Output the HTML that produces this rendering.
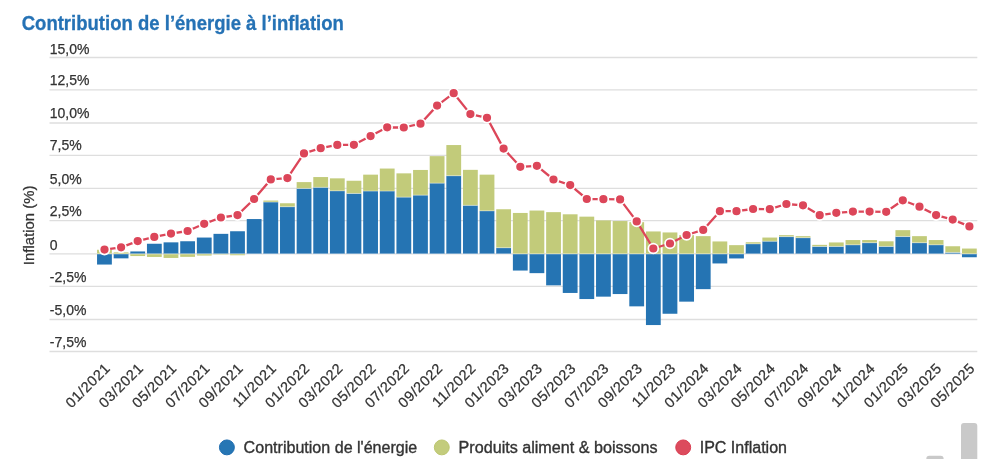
<!DOCTYPE html>
<html lang="fr"><head><meta charset="utf-8"><title>Contribution de l’énergie à l’inflation</title>
<style>
html,body{margin:0;padding:0;background:#fff;}
body{width:981px;height:459px;overflow:hidden;font-family:"Liberation Sans",sans-serif;}
svg{display:block;}
text{font-family:"Liberation Sans",sans-serif;}
.yl{font-size:14px;fill:#333333;stroke:#333;stroke-width:0.25px;}
.xl{font-size:14.5px;fill:#333333;letter-spacing:0.5px;stroke:#333;stroke-width:0.25px;}
.lg{font-size:16px;fill:#333333;stroke:#333333;stroke-width:0.35px;}
</style></head><body>
<svg width="981" height="459" viewBox="0 0 981 459">
<rect width="981" height="459" fill="#fff"/>

<rect x="961" y="423" width="16.3" height="50" rx="3" fill="#c9c9c9"/>
<rect x="926.3" y="455.7" width="17.3" height="20" rx="3" fill="#c9c9c9"/>
<text x="21.7" y="30.3" font-size="20.3" font-weight="bold" fill="#2572b5" stroke="#2572b5" stroke-width="0.3" textLength="322.2" lengthAdjust="spacingAndGlyphs">Contribution de l’énergie à l’inflation</text>
<line x1="49.5" x2="977.3" y1="57.5" y2="57.5" stroke="#dedede" stroke-width="1.3"/>
<line x1="49.5" x2="977.3" y1="89.8" y2="89.8" stroke="#dedede" stroke-width="1.3"/>
<line x1="49.5" x2="977.3" y1="123.0" y2="123.0" stroke="#dedede" stroke-width="1.3"/>
<line x1="49.5" x2="977.3" y1="155.3" y2="155.3" stroke="#dedede" stroke-width="1.3"/>
<line x1="49.5" x2="977.3" y1="188.3" y2="188.3" stroke="#dedede" stroke-width="1.3"/>
<line x1="49.5" x2="977.3" y1="220.7" y2="220.7" stroke="#dedede" stroke-width="1.3"/>
<line x1="49.5" x2="977.3" y1="253.8" y2="253.8" stroke="#dedede" stroke-width="1.3"/>
<line x1="49.5" x2="977.3" y1="286.3" y2="286.3" stroke="#dedede" stroke-width="1.3"/>
<line x1="49.5" x2="977.3" y1="319.5" y2="319.5" stroke="#dedede" stroke-width="1.3"/>
<line x1="49.5" x2="977.3" y1="351.5" y2="351.5" stroke="#dedede" stroke-width="1.3"/>
<rect x="97.05" y="253.90" width="14.80" height="10.65" fill="#2574b3"/>
<rect x="97.05" y="249.75" width="14.80" height="4.15" fill="#c2cb7a"/>
<rect x="97.05" y="253.40" width="14.80" height="1" fill="#fff" opacity="0.5"/>
<rect x="113.68" y="253.90" width="14.80" height="4.45" fill="#2574b3"/>
<rect x="113.68" y="252.35" width="14.80" height="1.55" fill="#c2cb7a"/>
<rect x="113.68" y="253.40" width="14.80" height="1" fill="#fff" opacity="0.5"/>
<rect x="130.32" y="251.45" width="14.80" height="2.45" fill="#2574b3"/>
<rect x="130.32" y="253.90" width="14.80" height="2.15" fill="#c2cb7a"/>
<rect x="130.32" y="253.40" width="14.80" height="1" fill="#fff" opacity="0.5"/>
<rect x="146.95" y="243.75" width="14.80" height="10.15" fill="#2574b3"/>
<rect x="146.95" y="253.90" width="14.80" height="3.05" fill="#c2cb7a"/>
<rect x="146.95" y="253.40" width="14.80" height="1" fill="#fff" opacity="0.5"/>
<rect x="163.58" y="242.35" width="14.80" height="11.55" fill="#2574b3"/>
<rect x="163.58" y="253.90" width="14.80" height="4.05" fill="#c2cb7a"/>
<rect x="163.58" y="253.40" width="14.80" height="1" fill="#fff" opacity="0.5"/>
<rect x="180.22" y="241.25" width="14.80" height="12.65" fill="#2574b3"/>
<rect x="180.22" y="253.90" width="14.80" height="2.95" fill="#c2cb7a"/>
<rect x="180.22" y="253.40" width="14.80" height="1" fill="#fff" opacity="0.5"/>
<rect x="196.85" y="237.55" width="14.80" height="16.35" fill="#2574b3"/>
<rect x="196.85" y="253.90" width="14.80" height="1.65" fill="#c2cb7a"/>
<rect x="196.85" y="253.40" width="14.80" height="1" fill="#fff" opacity="0.5"/>
<rect x="213.48" y="233.85" width="14.80" height="20.05" fill="#2574b3"/>
<rect x="213.48" y="253.90" width="14.80" height="0.55" fill="#c2cb7a"/>
<rect x="213.48" y="253.40" width="14.80" height="1" fill="#fff" opacity="0.5"/>
<rect x="230.11" y="231.25" width="14.80" height="22.65" fill="#2574b3"/>
<rect x="230.11" y="253.90" width="14.80" height="1.35" fill="#c2cb7a"/>
<rect x="230.11" y="253.40" width="14.80" height="1" fill="#fff" opacity="0.5"/>
<rect x="246.75" y="219.05" width="14.80" height="34.85" fill="#2574b3"/>
<rect x="246.75" y="253.40" width="14.80" height="1" fill="#fff" opacity="0.5"/>
<rect x="263.38" y="202.05" width="14.80" height="51.85" fill="#2574b3"/>
<rect x="263.38" y="200.55" width="14.80" height="1.50" fill="#c2cb7a"/>
<rect x="263.38" y="201.55" width="14.80" height="1" fill="#fff" opacity="0.4"/>
<rect x="263.38" y="253.40" width="14.80" height="1" fill="#fff" opacity="0.5"/>
<rect x="280.01" y="206.75" width="14.80" height="47.15" fill="#2574b3"/>
<rect x="280.01" y="203.25" width="14.80" height="3.50" fill="#c2cb7a"/>
<rect x="280.01" y="206.25" width="14.80" height="1" fill="#fff" opacity="0.4"/>
<rect x="280.01" y="253.40" width="14.80" height="1" fill="#fff" opacity="0.5"/>
<rect x="296.65" y="188.45" width="14.80" height="65.45" fill="#2574b3"/>
<rect x="296.65" y="182.10" width="14.80" height="6.35" fill="#c2cb7a"/>
<rect x="296.65" y="187.95" width="14.80" height="1" fill="#fff" opacity="0.4"/>
<rect x="296.65" y="253.40" width="14.80" height="1" fill="#fff" opacity="0.5"/>
<rect x="313.28" y="187.35" width="14.80" height="66.55" fill="#2574b3"/>
<rect x="313.28" y="177.05" width="14.80" height="10.30" fill="#c2cb7a"/>
<rect x="313.28" y="186.85" width="14.80" height="1" fill="#fff" opacity="0.4"/>
<rect x="313.28" y="253.40" width="14.80" height="1" fill="#fff" opacity="0.5"/>
<rect x="329.91" y="190.85" width="14.80" height="63.05" fill="#2574b3"/>
<rect x="329.91" y="178.35" width="14.80" height="12.50" fill="#c2cb7a"/>
<rect x="329.91" y="190.35" width="14.80" height="1" fill="#fff" opacity="0.4"/>
<rect x="329.91" y="253.40" width="14.80" height="1" fill="#fff" opacity="0.5"/>
<rect x="346.55" y="193.45" width="14.80" height="60.45" fill="#2574b3"/>
<rect x="346.55" y="180.75" width="14.80" height="12.70" fill="#c2cb7a"/>
<rect x="346.55" y="192.95" width="14.80" height="1" fill="#fff" opacity="0.4"/>
<rect x="346.55" y="253.40" width="14.80" height="1" fill="#fff" opacity="0.5"/>
<rect x="363.18" y="191.05" width="14.80" height="62.85" fill="#2574b3"/>
<rect x="363.18" y="174.65" width="14.80" height="16.40" fill="#c2cb7a"/>
<rect x="363.18" y="190.55" width="14.80" height="1" fill="#fff" opacity="0.4"/>
<rect x="363.18" y="253.40" width="14.80" height="1" fill="#fff" opacity="0.5"/>
<rect x="379.81" y="191.05" width="14.80" height="62.85" fill="#2574b3"/>
<rect x="379.81" y="168.55" width="14.80" height="22.50" fill="#c2cb7a"/>
<rect x="379.81" y="190.55" width="14.80" height="1" fill="#fff" opacity="0.4"/>
<rect x="379.81" y="253.40" width="14.80" height="1" fill="#fff" opacity="0.5"/>
<rect x="396.44" y="197.15" width="14.80" height="56.75" fill="#2574b3"/>
<rect x="396.44" y="173.35" width="14.80" height="23.80" fill="#c2cb7a"/>
<rect x="396.44" y="196.65" width="14.80" height="1" fill="#fff" opacity="0.4"/>
<rect x="396.44" y="253.40" width="14.80" height="1" fill="#fff" opacity="0.5"/>
<rect x="413.08" y="195.15" width="14.80" height="58.75" fill="#2574b3"/>
<rect x="413.08" y="169.95" width="14.80" height="25.20" fill="#c2cb7a"/>
<rect x="413.08" y="194.65" width="14.80" height="1" fill="#fff" opacity="0.4"/>
<rect x="413.08" y="253.40" width="14.80" height="1" fill="#fff" opacity="0.5"/>
<rect x="429.71" y="183.15" width="14.80" height="70.75" fill="#2574b3"/>
<rect x="429.71" y="156.15" width="14.80" height="27.00" fill="#c2cb7a"/>
<rect x="429.71" y="182.65" width="14.80" height="1" fill="#fff" opacity="0.4"/>
<rect x="429.71" y="253.40" width="14.80" height="1" fill="#fff" opacity="0.5"/>
<rect x="446.34" y="175.75" width="14.80" height="78.15" fill="#2574b3"/>
<rect x="446.34" y="145.05" width="14.80" height="30.70" fill="#c2cb7a"/>
<rect x="446.34" y="175.25" width="14.80" height="1" fill="#fff" opacity="0.4"/>
<rect x="446.34" y="253.40" width="14.80" height="1" fill="#fff" opacity="0.5"/>
<rect x="462.98" y="205.35" width="14.80" height="48.55" fill="#2574b3"/>
<rect x="462.98" y="169.85" width="14.80" height="35.50" fill="#c2cb7a"/>
<rect x="462.98" y="204.85" width="14.80" height="1" fill="#fff" opacity="0.4"/>
<rect x="462.98" y="253.40" width="14.80" height="1" fill="#fff" opacity="0.5"/>
<rect x="479.61" y="210.85" width="14.80" height="43.05" fill="#2574b3"/>
<rect x="479.61" y="174.65" width="14.80" height="36.20" fill="#c2cb7a"/>
<rect x="479.61" y="210.35" width="14.80" height="1" fill="#fff" opacity="0.4"/>
<rect x="479.61" y="253.40" width="14.80" height="1" fill="#fff" opacity="0.5"/>
<rect x="496.24" y="247.75" width="14.80" height="6.15" fill="#2574b3"/>
<rect x="496.24" y="209.25" width="14.80" height="38.50" fill="#c2cb7a"/>
<rect x="496.24" y="247.25" width="14.80" height="1" fill="#fff" opacity="0.4"/>
<rect x="496.24" y="253.40" width="14.80" height="1" fill="#fff" opacity="0.5"/>
<rect x="512.88" y="253.90" width="14.80" height="16.65" fill="#2574b3"/>
<rect x="512.88" y="212.95" width="14.80" height="40.95" fill="#c2cb7a"/>
<rect x="512.88" y="253.40" width="14.80" height="1" fill="#fff" opacity="0.5"/>
<rect x="529.51" y="253.90" width="14.80" height="19.25" fill="#2574b3"/>
<rect x="529.51" y="210.55" width="14.80" height="43.35" fill="#c2cb7a"/>
<rect x="529.51" y="253.40" width="14.80" height="1" fill="#fff" opacity="0.5"/>
<rect x="546.14" y="253.90" width="14.80" height="31.45" fill="#2574b3"/>
<rect x="546.14" y="212.15" width="14.80" height="41.75" fill="#c2cb7a"/>
<rect x="546.14" y="253.40" width="14.80" height="1" fill="#fff" opacity="0.5"/>
<rect x="562.77" y="253.90" width="14.80" height="39.05" fill="#2574b3"/>
<rect x="562.77" y="214.30" width="14.80" height="39.60" fill="#c2cb7a"/>
<rect x="562.77" y="253.40" width="14.80" height="1" fill="#fff" opacity="0.5"/>
<rect x="579.41" y="253.90" width="14.80" height="45.15" fill="#2574b3"/>
<rect x="579.41" y="216.65" width="14.80" height="37.25" fill="#c2cb7a"/>
<rect x="579.41" y="253.40" width="14.80" height="1" fill="#fff" opacity="0.5"/>
<rect x="596.04" y="253.90" width="14.80" height="42.75" fill="#2574b3"/>
<rect x="596.04" y="220.40" width="14.80" height="33.50" fill="#c2cb7a"/>
<rect x="596.04" y="253.40" width="14.80" height="1" fill="#fff" opacity="0.5"/>
<rect x="612.67" y="253.90" width="14.80" height="40.15" fill="#2574b3"/>
<rect x="612.67" y="221.05" width="14.80" height="32.85" fill="#c2cb7a"/>
<rect x="612.67" y="253.40" width="14.80" height="1" fill="#fff" opacity="0.5"/>
<rect x="629.31" y="253.90" width="14.80" height="52.45" fill="#2574b3"/>
<rect x="629.31" y="222.15" width="14.80" height="31.75" fill="#c2cb7a"/>
<rect x="629.31" y="253.40" width="14.80" height="1" fill="#fff" opacity="0.5"/>
<rect x="645.94" y="253.90" width="14.80" height="71.15" fill="#2574b3"/>
<rect x="645.94" y="231.45" width="14.80" height="22.45" fill="#c2cb7a"/>
<rect x="645.94" y="253.40" width="14.80" height="1" fill="#fff" opacity="0.5"/>
<rect x="662.57" y="253.90" width="14.80" height="59.85" fill="#2574b3"/>
<rect x="662.57" y="232.45" width="14.80" height="21.45" fill="#c2cb7a"/>
<rect x="662.57" y="253.40" width="14.80" height="1" fill="#fff" opacity="0.5"/>
<rect x="679.21" y="253.90" width="14.80" height="47.75" fill="#2574b3"/>
<rect x="679.21" y="235.15" width="14.80" height="18.75" fill="#c2cb7a"/>
<rect x="679.21" y="253.40" width="14.80" height="1" fill="#fff" opacity="0.5"/>
<rect x="695.84" y="253.90" width="14.80" height="35.25" fill="#2574b3"/>
<rect x="695.84" y="236.15" width="14.80" height="17.75" fill="#c2cb7a"/>
<rect x="695.84" y="253.40" width="14.80" height="1" fill="#fff" opacity="0.5"/>
<rect x="712.47" y="253.90" width="14.80" height="9.55" fill="#2574b3"/>
<rect x="712.47" y="241.45" width="14.80" height="12.45" fill="#c2cb7a"/>
<rect x="712.47" y="253.40" width="14.80" height="1" fill="#fff" opacity="0.5"/>
<rect x="729.10" y="253.90" width="14.80" height="4.55" fill="#2574b3"/>
<rect x="729.10" y="245.15" width="14.80" height="8.75" fill="#c2cb7a"/>
<rect x="729.10" y="253.40" width="14.80" height="1" fill="#fff" opacity="0.5"/>
<rect x="745.74" y="243.85" width="14.80" height="10.05" fill="#2574b3"/>
<rect x="745.74" y="242.25" width="14.80" height="1.60" fill="#c2cb7a"/>
<rect x="745.74" y="243.35" width="14.80" height="1" fill="#fff" opacity="0.4"/>
<rect x="745.74" y="253.40" width="14.80" height="1" fill="#fff" opacity="0.5"/>
<rect x="762.37" y="241.25" width="14.80" height="12.65" fill="#2574b3"/>
<rect x="762.37" y="237.55" width="14.80" height="3.70" fill="#c2cb7a"/>
<rect x="762.37" y="240.75" width="14.80" height="1" fill="#fff" opacity="0.4"/>
<rect x="762.37" y="253.40" width="14.80" height="1" fill="#fff" opacity="0.5"/>
<rect x="779.00" y="236.65" width="14.80" height="17.25" fill="#2574b3"/>
<rect x="779.00" y="235.15" width="14.80" height="1.50" fill="#c2cb7a"/>
<rect x="779.00" y="236.15" width="14.80" height="1" fill="#fff" opacity="0.4"/>
<rect x="779.00" y="253.40" width="14.80" height="1" fill="#fff" opacity="0.5"/>
<rect x="795.64" y="237.75" width="14.80" height="16.15" fill="#2574b3"/>
<rect x="795.64" y="236.15" width="14.80" height="1.60" fill="#c2cb7a"/>
<rect x="795.64" y="237.25" width="14.80" height="1" fill="#fff" opacity="0.4"/>
<rect x="795.64" y="253.40" width="14.80" height="1" fill="#fff" opacity="0.5"/>
<rect x="812.27" y="246.45" width="14.80" height="7.45" fill="#2574b3"/>
<rect x="812.27" y="244.85" width="14.80" height="1.60" fill="#c2cb7a"/>
<rect x="812.27" y="245.95" width="14.80" height="1" fill="#fff" opacity="0.4"/>
<rect x="812.27" y="253.40" width="14.80" height="1" fill="#fff" opacity="0.5"/>
<rect x="828.90" y="246.45" width="14.80" height="7.45" fill="#2574b3"/>
<rect x="828.90" y="242.45" width="14.80" height="4.00" fill="#c2cb7a"/>
<rect x="828.90" y="245.95" width="14.80" height="1" fill="#fff" opacity="0.4"/>
<rect x="828.90" y="253.40" width="14.80" height="1" fill="#fff" opacity="0.5"/>
<rect x="845.54" y="244.85" width="14.80" height="9.05" fill="#2574b3"/>
<rect x="845.54" y="240.05" width="14.80" height="4.80" fill="#c2cb7a"/>
<rect x="845.54" y="244.35" width="14.80" height="1" fill="#fff" opacity="0.4"/>
<rect x="845.54" y="253.40" width="14.80" height="1" fill="#fff" opacity="0.5"/>
<rect x="862.17" y="242.75" width="14.80" height="11.15" fill="#2574b3"/>
<rect x="862.17" y="240.05" width="14.80" height="2.70" fill="#c2cb7a"/>
<rect x="862.17" y="242.25" width="14.80" height="1" fill="#fff" opacity="0.4"/>
<rect x="862.17" y="253.40" width="14.80" height="1" fill="#fff" opacity="0.5"/>
<rect x="878.80" y="246.45" width="14.80" height="7.45" fill="#2574b3"/>
<rect x="878.80" y="241.30" width="14.80" height="5.15" fill="#c2cb7a"/>
<rect x="878.80" y="245.95" width="14.80" height="1" fill="#fff" opacity="0.4"/>
<rect x="878.80" y="253.40" width="14.80" height="1" fill="#fff" opacity="0.5"/>
<rect x="895.43" y="236.55" width="14.80" height="17.35" fill="#2574b3"/>
<rect x="895.43" y="230.15" width="14.80" height="6.40" fill="#c2cb7a"/>
<rect x="895.43" y="236.05" width="14.80" height="1" fill="#fff" opacity="0.4"/>
<rect x="895.43" y="253.40" width="14.80" height="1" fill="#fff" opacity="0.5"/>
<rect x="912.07" y="242.75" width="14.80" height="11.15" fill="#2574b3"/>
<rect x="912.07" y="236.15" width="14.80" height="6.60" fill="#c2cb7a"/>
<rect x="912.07" y="242.25" width="14.80" height="1" fill="#fff" opacity="0.4"/>
<rect x="912.07" y="253.40" width="14.80" height="1" fill="#fff" opacity="0.5"/>
<rect x="928.70" y="244.85" width="14.80" height="9.05" fill="#2574b3"/>
<rect x="928.70" y="240.05" width="14.80" height="4.80" fill="#c2cb7a"/>
<rect x="928.70" y="244.35" width="14.80" height="1" fill="#fff" opacity="0.4"/>
<rect x="928.70" y="253.40" width="14.80" height="1" fill="#fff" opacity="0.5"/>
<rect x="945.33" y="252.45" width="14.80" height="1.45" fill="#2574b3"/>
<rect x="945.33" y="246.25" width="14.80" height="6.20" fill="#c2cb7a"/>
<rect x="945.33" y="251.95" width="14.80" height="1" fill="#fff" opacity="0.4"/>
<rect x="945.33" y="253.40" width="14.80" height="1" fill="#fff" opacity="0.5"/>
<rect x="961.97" y="253.90" width="14.80" height="3.35" fill="#2574b3"/>
<rect x="961.97" y="248.55" width="14.80" height="5.35" fill="#c2cb7a"/>
<rect x="961.97" y="253.40" width="14.80" height="1" fill="#fff" opacity="0.5"/>
<text class="yl" x="49.8" y="53.8">15,0%</text>
<text class="yl" x="49.8" y="85.0">12,5%</text>
<text class="yl" x="49.8" y="118.2">10,0%</text>
<text class="yl" x="49.8" y="150.4">7,5%</text>
<text class="yl" x="49.8" y="183.9">5,0%</text>
<text class="yl" x="49.8" y="215.6">2,5%</text>
<text class="yl" x="49.8" y="249.7">0</text>
<text class="yl" x="49.8" y="281.8">-2,5%</text>
<text class="yl" x="49.8" y="315.0">-5,0%</text>
<text class="yl" x="49.8" y="347.1">-7,5%</text>
<text class="yl" transform="translate(34.3,225.4) rotate(-90)" text-anchor="middle" textLength="79.5" lengthAdjust="spacingAndGlyphs">Inflation (%)</text>
<polyline points="104.5,249.6 121.1,247.3 137.7,241.1 154.3,236.9 171.0,233.6 187.6,231.0 204.2,223.8 220.9,217.5 237.5,215.1 254.1,199.0 270.8,179.4 287.4,178.1 304.0,153.4 320.7,148.2 337.3,144.9 353.9,144.8 370.6,136.1 387.2,127.3 403.8,127.5 420.5,123.7 437.1,105.6 453.7,93.2 470.4,114.1 487.0,117.8 503.6,148.6 520.3,166.8 536.9,165.8 553.5,179.5 570.2,185.1 586.8,199.0 603.4,199.2 620.1,199.4 636.7,221.4 653.3,248.5 670.0,243.5 686.6,235.0 703.2,229.9 719.9,211.2 736.5,211.2 753.1,209.0 769.8,209.2 786.4,204.0 803.0,205.3 819.7,215.2 836.3,212.8 852.9,211.6 869.6,211.6 886.2,211.8 902.8,200.3 919.5,206.7 936.1,215.1 952.7,219.6 969.4,226.4" fill="none" stroke="#dc4659" stroke-width="2.3" stroke-linejoin="round" stroke-linecap="round"/>
<circle cx="104.5" cy="249.6" r="4.95" fill="#dc4659" stroke="#fff" stroke-width="1.7"/>
<circle cx="121.1" cy="247.3" r="4.95" fill="#dc4659" stroke="#fff" stroke-width="1.7"/>
<circle cx="137.7" cy="241.1" r="4.95" fill="#dc4659" stroke="#fff" stroke-width="1.7"/>
<circle cx="154.3" cy="236.9" r="4.95" fill="#dc4659" stroke="#fff" stroke-width="1.7"/>
<circle cx="171.0" cy="233.6" r="4.95" fill="#dc4659" stroke="#fff" stroke-width="1.7"/>
<circle cx="187.6" cy="231.0" r="4.95" fill="#dc4659" stroke="#fff" stroke-width="1.7"/>
<circle cx="204.2" cy="223.8" r="4.95" fill="#dc4659" stroke="#fff" stroke-width="1.7"/>
<circle cx="220.9" cy="217.5" r="4.95" fill="#dc4659" stroke="#fff" stroke-width="1.7"/>
<circle cx="237.5" cy="215.1" r="4.95" fill="#dc4659" stroke="#fff" stroke-width="1.7"/>
<circle cx="254.1" cy="199.0" r="4.95" fill="#dc4659" stroke="#fff" stroke-width="1.7"/>
<circle cx="270.8" cy="179.4" r="4.95" fill="#dc4659" stroke="#fff" stroke-width="1.7"/>
<circle cx="287.4" cy="178.1" r="4.95" fill="#dc4659" stroke="#fff" stroke-width="1.7"/>
<circle cx="304.0" cy="153.4" r="4.95" fill="#dc4659" stroke="#fff" stroke-width="1.7"/>
<circle cx="320.7" cy="148.2" r="4.95" fill="#dc4659" stroke="#fff" stroke-width="1.7"/>
<circle cx="337.3" cy="144.9" r="4.95" fill="#dc4659" stroke="#fff" stroke-width="1.7"/>
<circle cx="353.9" cy="144.8" r="4.95" fill="#dc4659" stroke="#fff" stroke-width="1.7"/>
<circle cx="370.6" cy="136.1" r="4.95" fill="#dc4659" stroke="#fff" stroke-width="1.7"/>
<circle cx="387.2" cy="127.3" r="4.95" fill="#dc4659" stroke="#fff" stroke-width="1.7"/>
<circle cx="403.8" cy="127.5" r="4.95" fill="#dc4659" stroke="#fff" stroke-width="1.7"/>
<circle cx="420.5" cy="123.7" r="4.95" fill="#dc4659" stroke="#fff" stroke-width="1.7"/>
<circle cx="437.1" cy="105.6" r="4.95" fill="#dc4659" stroke="#fff" stroke-width="1.7"/>
<circle cx="453.7" cy="93.2" r="4.95" fill="#dc4659" stroke="#fff" stroke-width="1.7"/>
<circle cx="470.4" cy="114.1" r="4.95" fill="#dc4659" stroke="#fff" stroke-width="1.7"/>
<circle cx="487.0" cy="117.8" r="4.95" fill="#dc4659" stroke="#fff" stroke-width="1.7"/>
<circle cx="503.6" cy="148.6" r="4.95" fill="#dc4659" stroke="#fff" stroke-width="1.7"/>
<circle cx="520.3" cy="166.8" r="4.95" fill="#dc4659" stroke="#fff" stroke-width="1.7"/>
<circle cx="536.9" cy="165.8" r="4.95" fill="#dc4659" stroke="#fff" stroke-width="1.7"/>
<circle cx="553.5" cy="179.5" r="4.95" fill="#dc4659" stroke="#fff" stroke-width="1.7"/>
<circle cx="570.2" cy="185.1" r="4.95" fill="#dc4659" stroke="#fff" stroke-width="1.7"/>
<circle cx="586.8" cy="199.0" r="4.95" fill="#dc4659" stroke="#fff" stroke-width="1.7"/>
<circle cx="603.4" cy="199.2" r="4.95" fill="#dc4659" stroke="#fff" stroke-width="1.7"/>
<circle cx="620.1" cy="199.4" r="4.95" fill="#dc4659" stroke="#fff" stroke-width="1.7"/>
<circle cx="636.7" cy="221.4" r="4.95" fill="#dc4659" stroke="#fff" stroke-width="1.7"/>
<circle cx="653.3" cy="248.5" r="4.95" fill="#dc4659" stroke="#fff" stroke-width="1.7"/>
<circle cx="670.0" cy="243.5" r="4.95" fill="#dc4659" stroke="#fff" stroke-width="1.7"/>
<circle cx="686.6" cy="235.0" r="4.95" fill="#dc4659" stroke="#fff" stroke-width="1.7"/>
<circle cx="703.2" cy="229.9" r="4.95" fill="#dc4659" stroke="#fff" stroke-width="1.7"/>
<circle cx="719.9" cy="211.2" r="4.95" fill="#dc4659" stroke="#fff" stroke-width="1.7"/>
<circle cx="736.5" cy="211.2" r="4.95" fill="#dc4659" stroke="#fff" stroke-width="1.7"/>
<circle cx="753.1" cy="209.0" r="4.95" fill="#dc4659" stroke="#fff" stroke-width="1.7"/>
<circle cx="769.8" cy="209.2" r="4.95" fill="#dc4659" stroke="#fff" stroke-width="1.7"/>
<circle cx="786.4" cy="204.0" r="4.95" fill="#dc4659" stroke="#fff" stroke-width="1.7"/>
<circle cx="803.0" cy="205.3" r="4.95" fill="#dc4659" stroke="#fff" stroke-width="1.7"/>
<circle cx="819.7" cy="215.2" r="4.95" fill="#dc4659" stroke="#fff" stroke-width="1.7"/>
<circle cx="836.3" cy="212.8" r="4.95" fill="#dc4659" stroke="#fff" stroke-width="1.7"/>
<circle cx="852.9" cy="211.6" r="4.95" fill="#dc4659" stroke="#fff" stroke-width="1.7"/>
<circle cx="869.6" cy="211.6" r="4.95" fill="#dc4659" stroke="#fff" stroke-width="1.7"/>
<circle cx="886.2" cy="211.8" r="4.95" fill="#dc4659" stroke="#fff" stroke-width="1.7"/>
<circle cx="902.8" cy="200.3" r="4.95" fill="#dc4659" stroke="#fff" stroke-width="1.7"/>
<circle cx="919.5" cy="206.7" r="4.95" fill="#dc4659" stroke="#fff" stroke-width="1.7"/>
<circle cx="936.1" cy="215.1" r="4.95" fill="#dc4659" stroke="#fff" stroke-width="1.7"/>
<circle cx="952.7" cy="219.6" r="4.95" fill="#dc4659" stroke="#fff" stroke-width="1.7"/>
<circle cx="969.4" cy="226.4" r="4.95" fill="#dc4659" stroke="#fff" stroke-width="1.7"/>
<text class="xl" text-anchor="end" transform="translate(111.0,369.1) rotate(-45)">01/2021</text>
<text class="xl" text-anchor="end" transform="translate(144.2,369.1) rotate(-45)">03/2021</text>
<text class="xl" text-anchor="end" transform="translate(177.5,369.1) rotate(-45)">05/2021</text>
<text class="xl" text-anchor="end" transform="translate(210.7,369.1) rotate(-45)">07/2021</text>
<text class="xl" text-anchor="end" transform="translate(244.0,369.1) rotate(-45)">09/2021</text>
<text class="xl" text-anchor="end" transform="translate(277.3,369.1) rotate(-45)">11/2021</text>
<text class="xl" text-anchor="end" transform="translate(310.5,369.1) rotate(-45)">01/2022</text>
<text class="xl" text-anchor="end" transform="translate(343.8,369.1) rotate(-45)">03/2022</text>
<text class="xl" text-anchor="end" transform="translate(377.1,369.1) rotate(-45)">05/2022</text>
<text class="xl" text-anchor="end" transform="translate(410.3,369.1) rotate(-45)">07/2022</text>
<text class="xl" text-anchor="end" transform="translate(443.6,369.1) rotate(-45)">09/2022</text>
<text class="xl" text-anchor="end" transform="translate(476.9,369.1) rotate(-45)">11/2022</text>
<text class="xl" text-anchor="end" transform="translate(510.1,369.1) rotate(-45)">01/2023</text>
<text class="xl" text-anchor="end" transform="translate(543.4,369.1) rotate(-45)">03/2023</text>
<text class="xl" text-anchor="end" transform="translate(576.7,369.1) rotate(-45)">05/2023</text>
<text class="xl" text-anchor="end" transform="translate(609.9,369.1) rotate(-45)">07/2023</text>
<text class="xl" text-anchor="end" transform="translate(643.2,369.1) rotate(-45)">09/2023</text>
<text class="xl" text-anchor="end" transform="translate(676.5,369.1) rotate(-45)">11/2023</text>
<text class="xl" text-anchor="end" transform="translate(709.7,369.1) rotate(-45)">01/2024</text>
<text class="xl" text-anchor="end" transform="translate(743.0,369.1) rotate(-45)">03/2024</text>
<text class="xl" text-anchor="end" transform="translate(776.3,369.1) rotate(-45)">05/2024</text>
<text class="xl" text-anchor="end" transform="translate(809.5,369.1) rotate(-45)">07/2024</text>
<text class="xl" text-anchor="end" transform="translate(842.8,369.1) rotate(-45)">09/2024</text>
<text class="xl" text-anchor="end" transform="translate(876.1,369.1) rotate(-45)">11/2024</text>
<text class="xl" text-anchor="end" transform="translate(909.3,369.1) rotate(-45)">01/2025</text>
<text class="xl" text-anchor="end" transform="translate(942.6,369.1) rotate(-45)">03/2025</text>
<text class="xl" text-anchor="end" transform="translate(975.9,369.1) rotate(-45)">05/2025</text>
<circle cx="226.9" cy="447.4" r="7.45" fill="#2676b4" stroke="#1d6cb0" stroke-width="1"/>
<text class="lg" x="243.6" y="452.6" textLength="173.7" lengthAdjust="spacingAndGlyphs">Contribution de l'énergie</text>
<circle cx="441.8" cy="447.4" r="7.45" fill="#c3cc7c" stroke="#bcc670" stroke-width="1"/>
<text class="lg" x="458.6" y="452.6" textLength="199.0" lengthAdjust="spacingAndGlyphs">Produits aliment &amp; boissons</text>
<circle cx="683.2" cy="447.4" r="7.45" fill="#dc4b5d" stroke="#d93c50" stroke-width="1"/>
<text class="lg" x="699.7" y="452.6" textLength="87.3" lengthAdjust="spacingAndGlyphs">IPC Inflation</text>
</svg></body></html>
